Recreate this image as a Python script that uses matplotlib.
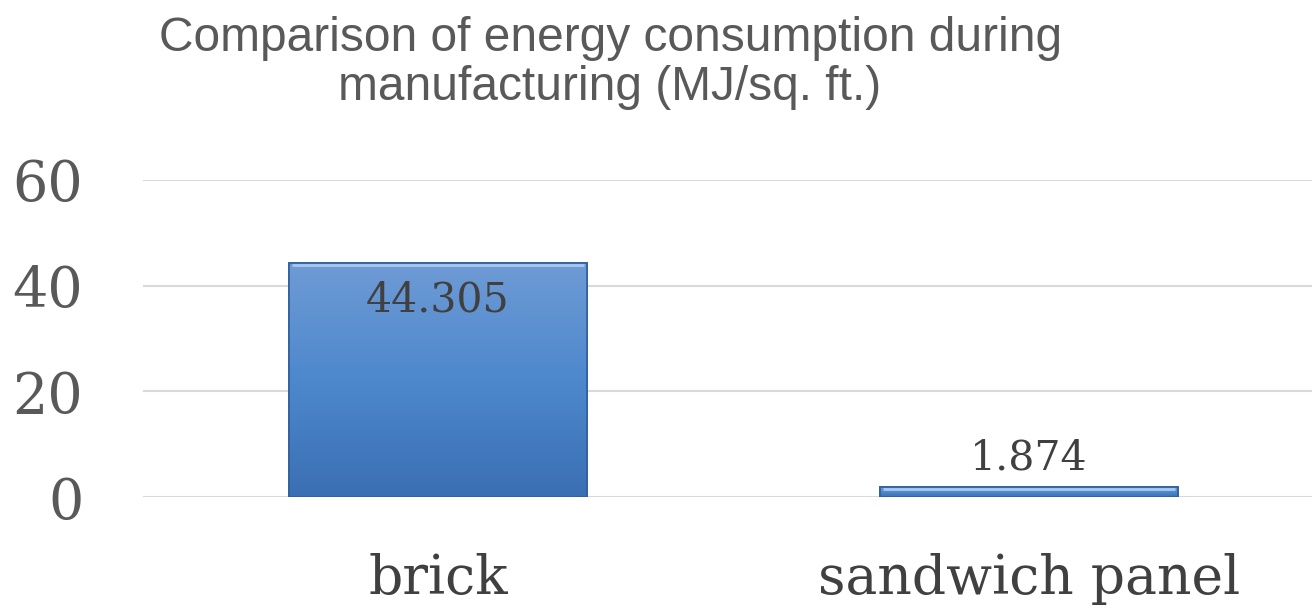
import numpy as np
import matplotlib
matplotlib.use("Agg")
import matplotlib.pyplot as plt
from matplotlib.colors import LinearSegmentedColormap

# data
categories = ["brick", "sandwich panel"]
values = [44.305, 1.874]
value_labels = ["44.305", "1.874"]
yticks = [0, 20, 40, 60]

fig = plt.figure(figsize=(13.12, 6.10), dpi=100)
ax = fig.add_axes([0.109, 0.185, 0.891, 0.52])

x = np.arange(len(categories))
bars = ax.bar(x, values, width=0.503, color="#4a82c8", edgecolor="#2f5f9e",
              linewidth=1.2, zorder=3)

# vertical gradient inside each bar, clipped to the bar
cmap = LinearSegmentedColormap.from_list("bluegrad", ["#3b6fb3", "#4d88cd", "#6f9bd5"])
grad = np.linspace(0, 1, 256).reshape(-1, 1)
for b in bars:
    x0, y0 = b.get_x(), b.get_y()
    w, h = b.get_width(), b.get_height()
    im = ax.imshow(grad, cmap=cmap, origin="lower", aspect="auto",
                   extent=[x0, x0 + w, y0, y0 + h], zorder=3.5)
    im.set_clip_path(b)
    # light bevel at the top edge
    ax.plot([x0 + 0.004, x0 + w - 0.004], [y0 + h - 0.35, y0 + h - 0.35],
            color="#a9c8ee", lw=2, zorder=4, solid_capstyle="butt")
    ax.add_patch(plt.Rectangle((x0, y0), w, h, fill=False, edgecolor="#2f5f9e",
                               lw=1.2, zorder=4.5))

# data labels
ax.text(x[0], values[0] - 3.3, value_labels[0], ha="center", va="top",
        fontsize=29.5, family="DejaVu Serif", color="#404040", zorder=5)
ax.text(x[1], values[1] + 1.6, value_labels[1], ha="center", va="bottom",
        fontsize=29.5, family="DejaVu Serif", color="#404040", zorder=5)

ax.set_xlim(-0.499, 1.479)
ax.set_ylim(0, 60)
ax.set_yticks(yticks)
ax.set_yticklabels([str(t) for t in yticks], family="DejaVu Serif",
                   fontsize=40, color="#595959")
ax.set_xticks(x)
ax.set_xticklabels(categories, family="DejaVu Serif", fontsize=38.6, color="#404040")
ax.tick_params(axis="y", length=0, pad=43)
ax.tick_params(axis="x", length=0, pad=40)
ax.grid(axis="y", color="#d9d9d9", lw=1.5, zorder=0)
for s in ax.spines.values():
    s.set_visible(False)

fig.text(0.465, 0.973, "Comparison of energy consumption during\nmanufacturing (MJ/sq. ft.)",
         ha="center", va="top", fontsize=34.5, family="Liberation Sans",
         color="#595959", linespacing=1.1)

fig.savefig("out.png", dpi=100)
